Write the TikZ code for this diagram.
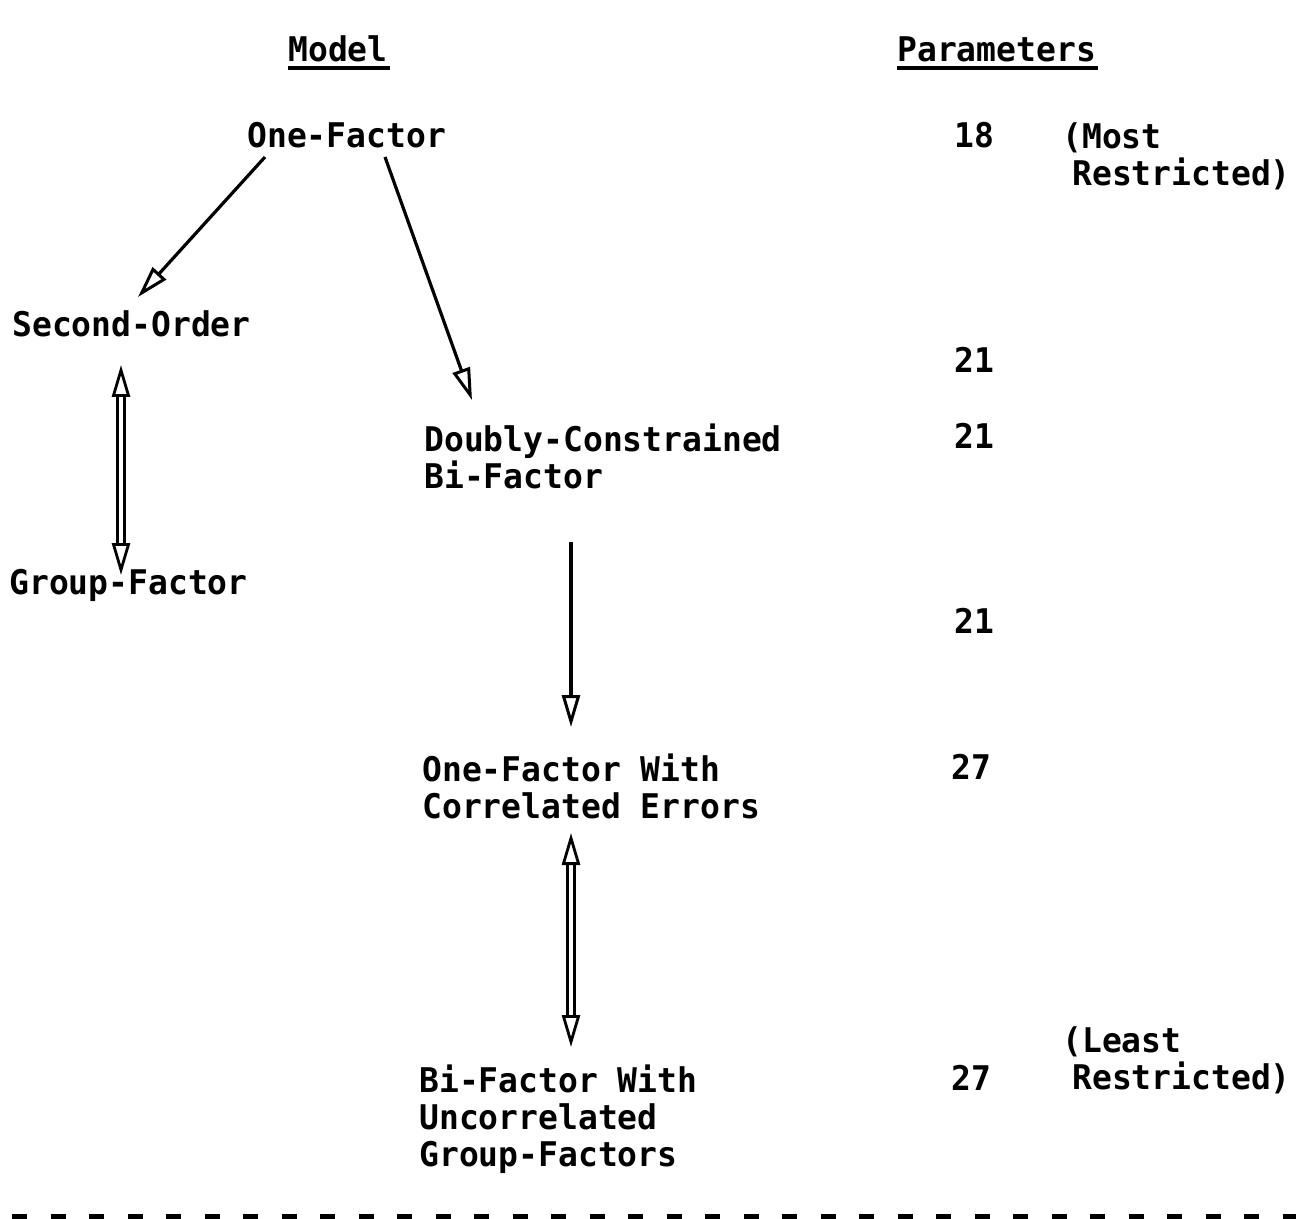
\documentclass[tikz,border=0pt]{standalone}
\usepackage{fontspec}
\setmonofont{DejaVu Sans Mono}[FakeStretch=0.97]
\usetikzlibrary{arrows.meta}

\begin{document}
\begin{tikzpicture}[
    x=0.5pt, y=-0.5pt,
    every node/.style={font=\ttfamily\bfseries\fontsize{17}{18.5}\selectfont, inner sep=0pt},
    lbl/.style={anchor=base west},
    multi/.style={anchor=north west, align=left},
    uline/.style={line width=1.7pt},
    arr/.style={-{Triangle[open, length=16pt, width=9pt, line width=1.5pt]}, line width=1.6pt},
    dblarr/.style={{Triangle[open, length=16pt, width=9pt, line width=1.4pt]}-{Triangle[open, length=16pt, width=9pt, line width=1.4pt]},
        double, line width=1.4pt, double distance=1.8pt},
    cut/.style={line width=2.5pt, dash pattern=on 7.5pt off 11.75pt}
]
\useasboundingbox (0,0) rectangle (1296,1219);

% column headings
\node[lbl] (hmodel) at (288,62) {Model};
\node[lbl] (hparam) at (897,62) {Parameters};
\draw[uline] ([shift={(0,6)}]hmodel.base west) -- ([shift={(2,6)}]hmodel.base east);
\draw[uline] ([shift={(0,6)}]hparam.base west) -- ([shift={(2,6)}]hparam.base east);

% models
\node[lbl] (onef) at (247,148) {One-Factor};
\node[lbl] (second) at (12,337) {Second-Order};
\node[multi] (doubly) at (424,423) {Doubly-Constrained\\Bi-Factor};
\node[lbl] (group) at (9,594) {Group-Factor};
\node[multi] (onecorr) at (422,753) {One-Factor With\\Correlated Errors};
\node[multi] (bifac) at (419,1064) {Bi-Factor With\\Uncorrelated\\Group-Factors};

% parameters
\node[lbl] (p18) at (954,148) {18};
\node[multi] (most) at (1072,122) {\kern-5pt(Most\\Restricted)};
\node[lbl] (p21a) at (954,373) {21};
\node[lbl] (p21b) at (954,449) {21};
\node[lbl] (p21c) at (954,633) {21};
\node[lbl] (p27a) at (951,779) {27};
\node[multi] (least) at (1072,1026) {\kern-5pt(Least\\Restricted)};
\node[lbl] (p27b) at (951,1090) {27};

% nesting arrows
\draw[arr] ([shift={(18,9)}]onef.base west) -- ([shift={(126,-40)}]second.base west);
\draw[arr] ([shift={(138,9)}]onef.base west) -- ([shift={(48,-23)}]doubly.north west);
\draw[dblarr] ([shift={(109,28)}]second.base west) -- ([shift={(112,-19)}]group.base west);
\draw[arr] ([shift={(147,119)}]doubly.north west) -- ([shift={(149,-26)}]onecorr.north west);
\draw[dblarr] ([shift={(149,80)}]onecorr.north west) -- ([shift={(152,-17)}]bifac.north west);

% cut line
\draw[cut] (12,1216) -- (1296,1216);
\end{tikzpicture}
\end{document}
